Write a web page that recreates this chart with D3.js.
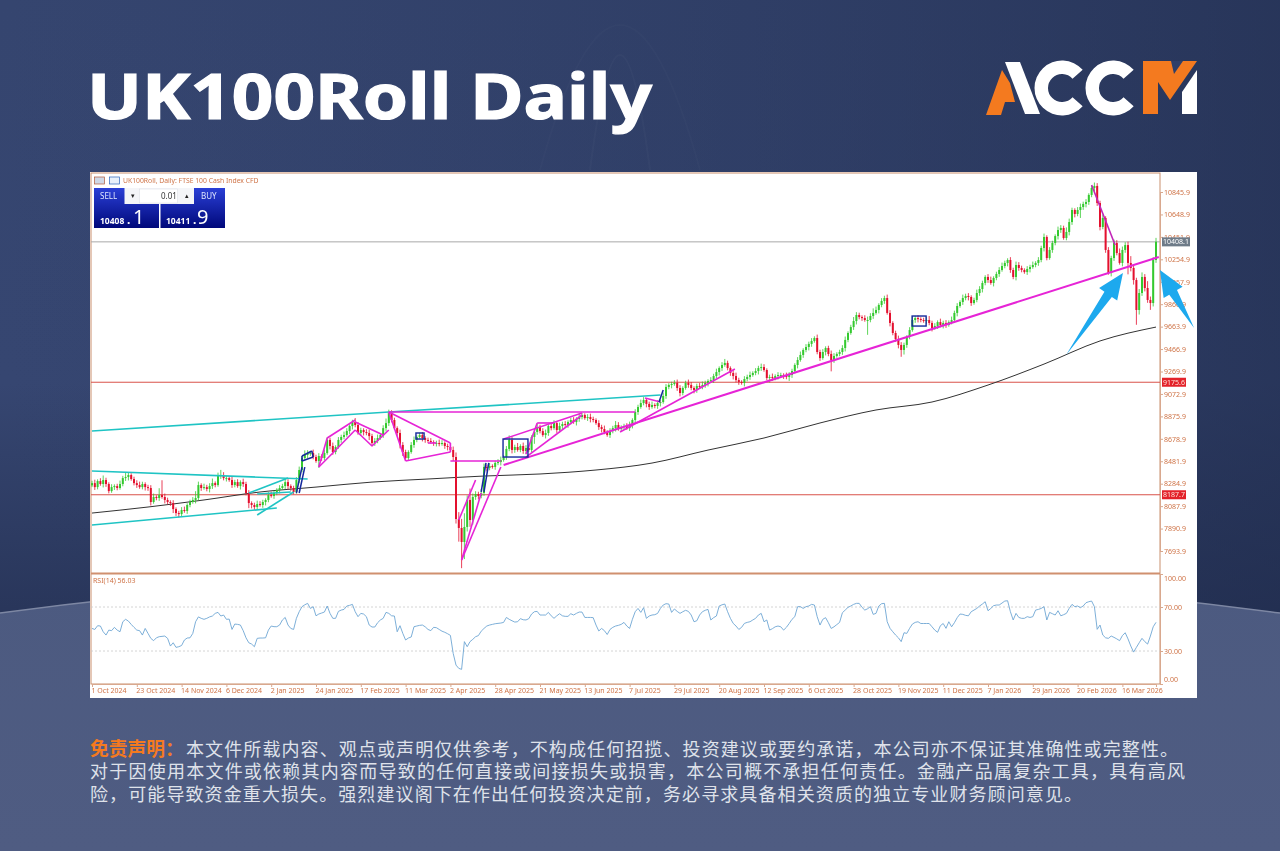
<!DOCTYPE html>
<html>
<head>
<meta charset="utf-8">
<script src="https://cdn.jsdelivr.net/npm/d3@7"></script>
<style>
  html,body{margin:0;padding:0;background:#2c3a60;}
  svg{display:block;}
</style>
</head>
<body>
<svg id="page" width="1280" height="851"></svg>
<script>
// daily closes, 1 Oct 2024 .. end Mar 2026
var closes = [
 8290,8255,8308,8282,8317,8282,8220,8255,8264,8247,
 8282,8334,8343,8361,8326,8290,8273,8255,8282,8255,
 8247,8124,8168,8159,8185,8168,8142,8124,8115,8062,
 8027,8018,8054,8045,8098,8124,8142,8159,8273,8247,
 8255,8238,8264,8290,8273,8352,8361,8334,8334,8317,
 8273,8299,8264,8299,8282,8203,8115,8098,8080,8106,
 8098,8124,8142,8185,8177,8203,8230,8247,8264,8299,
 8264,8247,8212,8317,8405,8510,8537,8554,8554,8519,
 8484,8528,8510,8554,8669,8616,8563,8607,8669,8695,
 8712,8747,8791,8826,8800,8730,8756,8738,8730,8703,
 8642,8660,8686,8712,8773,8817,8905,8844,8773,8730,
 8625,8563,8510,8563,8625,8669,8695,8712,8686,8669,
 8660,8651,8642,8642,8633,8642,8616,8607,8581,8519,
 7975,7896,7773,7905,8142,7966,8168,8194,8177,8203,
 8432,8423,8440,8432,8467,8475,8493,8519,8590,8669,
 8581,8607,8581,8616,8572,8598,8581,8695,8739,8782,
 8747,8712,8730,8791,8773,8817,8756,8791,8809,8800,
 8826,8844,8826,8853,8870,8888,8861,8870,8853,8844,
 8817,8782,8765,8739,8712,8747,8773,8800,8765,8782,
 8791,8773,8800,8844,8914,8958,8993,9020,8985,8958,
 8976,8967,8993,9002,9055,9134,9152,9160,9169,9125,
 9081,9125,9169,9152,9125,9108,9143,9134,9152,9169,
 9187,9195,9230,9265,9300,9327,9345,9300,9257,9230,
 9195,9178,9169,9204,9222,9239,9257,9274,9300,9309,
 9283,9213,9222,9213,9230,9239,9239,9230,9222,9239,
 9274,9327,9371,9415,9459,9485,9512,9538,9564,9441,
 9388,9441,9476,9424,9371,9406,9424,9441,9476,9547,
 9608,9660,9713,9766,9748,9739,9722,9722,9757,9784,
 9810,9854,9889,9915,9784,9696,9608,9555,9503,9459,
 9503,9573,9634,9722,9739,9731,9722,9713,9722,9696,
 9652,9669,9704,9678,9696,9678,9704,9722,9784,9845,
 9880,9915,9933,9924,9871,9898,9959,9994,10047,10100,
 10073,10047,10091,10126,10161,10196,10223,10249,10161,10100,
 10205,10179,10161,10143,10170,10187,10205,10223,10249,10354,
 10451,10266,10337,10398,10459,10512,10530,10442,10495,10582,
 10688,10653,10688,10714,10741,10758,10820,10881,10899,10749,
 10539,10618,10337,10135,10266,10398,10310,10223,10337,10380,
 10223,10179,10073,9810,9959,10100,10003,9898,9871,10249,10408
];
// wick lengths above / below the candle body, in index points
var wickUp = [
 20,30,15,25,40,20,15,25,15,20, 30,20,40,25,15,20,25,30,20,15,
 20,25,30,15,60,130,30,20,15,25, 15,20,25,30,15,20,25,60,30,15,
 30,20,25,40,15,30,45,25,20,15, 30,20,25,15,30,20,25,15,20,30,
 25,20,15,25,30,20,15,25,20,35, 25,15,20,25,30,20,40,25,15,30,
 20,25,15,30,25,20,30,15,25,20, 30,25,15,20,35,25,20,15,25,30,
 20,25,30,15,25,40,30,25,20,15, 30,25,20,15,25,30,15,20,25,15,
 20,25,15,20,30,25,15,20,25,30, 40,60,80,120,40,100,30,25,20,35,
 30,20,25,15,20,25,30,15,25,40, 25,20,35,15,30,25,20,15,25,30,
 20,25,30,15,20,25,15,30,20,25, 15,20,25,15,30,20,15,25,30,20,
 15,25,20,30,15,25,20,35,25,15, 20,25,30,15,25,20,30,25,15,20,
 30,15,25,20,30,25,15,20,25,30, 25,15,20,30,25,15,20,25,30,20,
 15,25,20,30,15,25,35,20,15,25, 30,20,15,25,20,30,15,25,20,30,
 25,15,20,30,15,25,20,15,30,25, 20,15,25,30,15,25,20,25,15,30,
 20,25,15,20,30,25,15,20,25,30, 15,20,35,25,20,15,25,30,25,40,
 30,15,25,20,30,25,15,20,30,25, 20,15,25,30,20,25,15,20,25,35,
 20,25,15,30,20,25,15,30,20,25, 15,30,20,25,15,20,30,25,20,15,
 25,30,15,20,25,30,20,15,25,20, 30,25,20,15,25,20,30,15,25,20,
 30,15,25,20,15,30,25,20,40,30, 20,15,25,30,20,25,15,20,30,25,
 20,30,15,25,20,30,25,40,30,25, 30,60,25,20,35,40,25,60,30,25, 35
];
var wickDown = [
 15,25,20,15,30,25,20,15,25,20, 15,20,25,30,15,20,25,15,20,30,
 25,30,15,20,25,15,30,20,25,35, 25,30,20,15,25,20,15,30,20,25,
 15,20,30,25,20,15,25,20,30,15, 25,20,15,30,25,20,45,30,25,20,
 15,25,30,20,15,25,20,30,15,25, 30,25,20,15,25,20,15,30,25,20,
 15,60,25,20,15,30,25,20,15,25, 20,15,25,30,20,15,25,30,20,35,
 30,25,20,15,25,30,25,20,15,25, 30,35,25,20,15,25,20,15,30,25,
 20,15,25,30,20,15,25,30,20,35, 40,120,230,150,40,60,40,25,30,20,
 25,30,20,15,25,20,30,15,25,20, 30,25,15,20,25,30,15,20,60,25,
 20,15,30,25,20,15,25,20,30,15, 25,20,15,30,25,20,15,25,30,20,
 15,25,30,20,15,25,20,30,15,25, 20,15,25,30,20,25,15,20,30,25,
 15,20,25,30,15,25,20,30,15,25, 30,20,15,25,20,30,25,15,20,25,
 30,15,25,20,30,25,15,20,25,30, 20,25,15,30,20,25,15,20,30,25,
 15,20,40,25,20,30,15,25,20,35, 25,20,30,15,25,20,30,25,15,20,
 25,15,30,20,100,25,15,20,25,30, 20,15,25,30,20,25,15,130,20,25,
 15,30,20,25,15,30,20,25,30,60, 40,25,20,15,25,30,20,15,25,20,
 30,15,25,20,30,25,15,20,25,30, 15,25,20,30,25,15,20,25,30,20,
 25,15,30,20,25,15,20,30,25,20, 30,25,20,15,25,30,15,20,25,20,
 30,20,15,25,20,30,25,15,20,30, 25,30,20,70,25,30,25,20,30,25,
 30,20,25,15,30,25,20,15,30,25, 100,30,40,130,40,25,30,25,60,30, 25
];
// 200 day average, read every 20th bar or so
var maBars = [0,20,40,60,80,100,120,140,160,170,180,200,220,240,260,280,300,320,340,360,380];
var maValues = [8027,8080,8142,8212,8255,8299,8326,8352,8370,8385,8405,8466,8580,8686,8818,8932,9002,9151,9335,9538,9660];
// RSI(14), same bars as closes
var rsiValues = [
 50.5,49.6,53,52.7,47.5,44.5,49,48.5,51.5,49, 47.5,56.6,58.8,57.2,54.2,51.5,49,48.5,44.5,50.5,
 46,41.5,39.4,42,43,43.3,43.6,41.5,34.5,37.5, 33.3,33.9,35,40,41.8,42,46,56.6,61,59.7,
 58.8,59.7,61,61.8,64.2,65.1,61.8,62.7,58.8,59, 49.6,54.5,54.2,53.6,48.5,42,37.5,36.3,33.9,41.5,
 41.8,41.8,42,49,52.7,52.1,52.1,53.6,58.2,60.5, 53.6,50.5,49.6,59.7,65.7,70.3,72,73.3,68.7,70.3,
 62,63.6,64.5,65.4,70.9,64.2,59.7,59.7,66,67.2, 67.8,70.9,71.5,72.4,65.7,61.2,64.2,63.6,61.2,53.6,
 51.8,51.8,55.7,58.2,59.7,65.1,64.2,62,61.8,47.5, 53,46,40,41.8,42.7,52.1,52.7,53.3,53.6,52,
 49.6,48.5,51.5,51.2,49.6,48,47,45.7,44.2,27.8, 17.2,14.2,13.3,38.5,33.9,38.5,40.6,43,44,48,
 50.5,52.7,53.6,54.2,54.8,55.1,55.4,56,60.5,58.8, 57.5,56.3,56.6,59.4,58.4,58.2,59.4,63.6,65.7,66,
 62.7,62.7,62.7,65.1,62,59.7,62,63.9,62,61.5, 61.5,63.9,62.7,64.2,65.4,65.4,60.5,60.5,60.5,60.3,
 53.6,48.2,50.5,48.5,45,49.6,51.5,52.7,53.3,54.2, 56,52.7,50.5,58.8,65.7,68.7,65.1,69.4,59.7,61.8,
 62.7,63,64.2,68.7,71.8,73,72.7,65.1,68.2,66, 64.2,65.7,67,66,62.7,56.6,57.5,62.7,65.7,67,
 67.8,58.2,60.3,61.8,70.9,72,72.7,65.7,59.7,55.1, 52.7,49.6,51.5,55.1,56,56.6,58.2,59.7,62.7,64.2,
 56.6,58.2,49,50.3,52,52.7,52,49,51.5,55, 58.8,61.2,70.3,70.3,68.7,70.3,70.9,72.4,71.8,61.2,
 53.6,58.8,60.3,55.7,50.5,52,54,56,64.8,67.2, 69.7,70.9,72.4,73.3,73.3,69.7,67.2,68.4,70.3,63.3,
 64.2,70.9,73,73.3,56.6,50.6,47.5,44.5,42,38.5, 46.6,46,50.6,54.5,56,56.6,55,55,55,55,
 52,49,47,53,55,50.6,56.6,52,55.7,60.3, 63.6,63.3,62.4,62,65.7,67.2,68.7,70.9,72.7,74.8,
 66.6,68.7,71.2,71.8,71.8,73.6,75.4,75.7,65.7,58.2, 64.2,60.5,59.7,59.7,61.2,60.5,61.2,67.2,67.8,68.7,
 70.3,58.2,65.1,63.9,62.7,66.6,62,63,64.2,68.7, 72.4,70.3,70.9,69.4,70.9,73.9,74.8,75.4,70.3,49.7,
 53.6,44.5,42,41.5,43.6,42.4,41,39.4,44,46.6, 41,34.5,29,33.3,37.5,41.5,38.5,36.3,43.6,52,56.03
];
var dateTicks = ["1 Oct 2024","23 Oct 2024","14 Nov 2024","6 Dec 2024","2 Jan 2025","24 Jan 2025","17 Feb 2025","11 Mar 2025","2 Apr 2025","28 Apr 2025","21 May 2025","13 Jun 2025","7 Jul 2025","29 Jul 2025","20 Aug 2025","12 Sep 2025","6 Oct 2025","28 Oct 2025","19 Nov 2025","11 Dec 2025","7 Jan 2026","29 Jan 2026","20 Feb 2026","16 Mar 2026"];
var priceTicks = [10845.9,10648.9,10451.9,10254.9,10057.9,9860.9,9663.9,9466.9,9269.9,9072.9,8875.9,8678.9,8481.9,8284.9,8087.9,7890.9,7693.9];
var rsiTicks = [0,30,70,100];
var redLevels = [9175.6,8187.7];
var lastPrice = 10408.1;

// drawn objects, [bar, price, bar, price]
var cyanLines = [
 [0,8747,106,8914],[106,8914,203,9063],[0,8396,77,8326],[0,7922,66,8071],
 [56,8203,70,8335],[59,8010,72,8212],[59,8194,71,8212]
];
var magentaThin = [
 [155,8519,175,8888],[147,8677,175,8905],[159,8818,165,8818],[159,8818,155,8546],
 [106,8914,194,8914],[106,8914,128,8642],[128,8642,128,8563],[112,8484,128,8563],[106,8914,112,8484],[120,8642,123,8642],
 [128,8484,146,8484],[132,7615,146,8431],[131,7966,137,8317],[132,7615,139,8203],
 [188.6,8739,229.6,9292],[197.5,9037,203,9002],
 [81,8431,84,8686],[84,8686,94,8844],[94,8756,86,8554],[86,8554,81,8431],[94,8826,104,8712],[94,8756,100,8616],[100,8616,106,8756]
];
var magentaMain = [[147,8449,381,10275]];
var purpleLines = [[357,10907,365.4,10381]];
var blueLines = [
 [73,8203,75,8431],[74,8203,76,8431],[75,8528,78.5,8572],[78.5,8572,79,8519],[79,8519,75,8484],[75,8484,75,8528],
 [139,8212,140.7,8467],[140,8212,141.7,8467],[202.5,9002,204,9107]
];
var blueBoxes = [[146.8,8677,155.7,8519],[115.7,8730,118.6,8677],[292.9,9757,297.9,9669]];
var arrows = [[347.9,9415,368.2,10135],[393.6,9652,381.4,10161]];

var bg = d3.select("#page");
var defs = bg.append("defs");
var g1 = defs.append("linearGradient").attr("id","bgTop").attr("x1",0).attr("x2",0).attr("y1",0).attr("y2",1);
g1.append("stop").attr("offset","0%").attr("stop-color","#35456f");
g1.append("stop").attr("offset","45%").attr("stop-color","#364671");
g1.append("stop").attr("offset","100%").attr("stop-color","#1b2543");
var g2 = defs.append("linearGradient").attr("id","bgLow").attr("x1",0).attr("x2",0).attr("y1",0).attr("y2",1);
g2.append("stop").attr("offset","0%").attr("stop-color","#4c5a80");
g2.append("stop").attr("offset","100%").attr("stop-color","#4f5c82");
var g3 = defs.append("linearGradient").attr("id","quote").attr("x1",0).attr("x2",0).attr("y1",0).attr("y2",1);
g3.append("stop").attr("offset","0%").attr("stop-color","#2a3fd6");
g3.append("stop").attr("offset","100%").attr("stop-color","#00087a");
var g4 = defs.append("linearGradient").attr("id","fade").attr("x1",0).attr("x2",1).attr("y1",0).attr("y2",0);
g4.append("stop").attr("offset","0%").attr("stop-color","#2b3a62").attr("stop-opacity",0);
g4.append("stop").attr("offset","100%").attr("stop-color","#1f2b4c").attr("stop-opacity",0.6);

bg.append("rect").attr("width",1280).attr("height",851).attr("fill","url(#bgTop)");
bg.append("rect").attr("width",1280).attr("height",620).attr("fill","url(#fade)");
// faint backdrop shapes behind the title
bg.append("path").attr("d","M590,170 Q620,-60 650,170").attr("fill","none").attr("stroke","#fff").attr("stroke-opacity",0.025).attr("stroke-width",2);
bg.append("path").attr("d","M540,170 Q620,-120 700,170").attr("fill","none").attr("stroke","#fff").attr("stroke-opacity",0.015).attr("stroke-width",2);
bg.append("path").attr("d","M0,613 Q640,528 1280,613 L1280,851 L0,851 Z").attr("fill","url(#bgLow)");
bg.append("path").attr("d","M0,613 Q640,528 1280,613").attr("fill","none").attr("stroke","#7d87a3").attr("stroke-width",1.5);

// header
bg.append("text").attr("x",87).attr("y",119).attr("fill","#fff").attr("stroke","#fff").attr("stroke-width",1.2)
  .style("font-family","'Noto Sans','Open Sans',sans-serif").style("font-weight",700).style("font-size","62px")
  .attr("textLength",565).attr("lengthAdjust","spacingAndGlyphs").text("UK100Roll Daily");

var logo = bg.append("g");
logo.append("polygon").attr("points","1002,70 986,115 1001,115 1005,102 1015,102 1010,83").attr("fill","#f47a1f");
logo.append("polygon").attr("points","1005,62 1020,62 1040,114 1025,114").attr("fill","#fff");
[1062,1113].forEach(function(cx){
  var arc = d3.arc().innerRadius(14).outerRadius(27.5)
    .startAngle(Math.PI/2+0.72).endAngle(Math.PI/2+2*Math.PI-0.72);
  logo.append("path").attr("transform","translate("+cx+",88)").attr("d",arc()).attr("fill","#fff");
});
logo.append("polygon").attr("points","1143,61 1197,61 1170,100 1158,82 1158,114 1143,114").attr("fill","#f47a1f");
logo.append("polygon").attr("points","1171,61 1183,61 1174,74").attr("fill","#2f3f69");
logo.append("polygon").attr("points","1197,70 1197,114 1182,114 1182,92").attr("fill","#fff");

// chart panel, screenshot is slightly soft so blur a touch
var panel = bg.append("g").style("filter","blur(0.35px)");
var axisCol = "#cf7448", labelFont = "'Noto Sans',sans-serif";
panel.append("rect").attr("x",90).attr("y",172).attr("width",1107).attr("height",526).attr("fill","#fff");
panel.append("rect").attr("x",91).attr("y",173).attr("width",1069).attr("height",511).attr("fill","none").attr("stroke","#c9906f").attr("stroke-width",1);
panel.append("rect").attr("x",91).attr("y",572.5).attr("width",1069).attr("height",2).attr("fill","#d0906f");

var x = d3.scaleLinear().domain([0,380]).range([92,1156]);
var y = d3.scaleLinear().domain([7693.9,10845.9]).range([551,192]);
var yRsi = d3.scaleLinear().domain([0,100]).range([684,574]);

redLevels.forEach(function(v){
  panel.append("line").attr("x1",91).attr("x2",1160).attr("y1",y(v)).attr("y2",y(v)).attr("stroke","#d9524a").attr("stroke-width",1);
});
panel.append("line").attr("x1",91).attr("x2",1160).attr("y1",y(lastPrice)).attr("y2",y(lastPrice)).attr("stroke","#a8a8a8").attr("stroke-width",1);

// moving average
var maLine = d3.line().x(function(d,i){return x(maBars[i]);}).y(function(d){return y(d);}).curve(d3.curveMonotoneX);
panel.append("path").attr("d",maLine(maValues)).attr("fill","none").attr("stroke","#333").attr("stroke-width",1);

// candles
var candles = panel.append("g").selectAll("g").data(closes).join("g").attr("class","candle");
function openOf(i){ return i==0 ? closes[0]-20 : closes[i-1]; }
function colorOf(d,i){ return d>=openOf(i) ? "#34c92f" : "#e3102e"; }
candles.append("line")
  .attr("x1",function(d,i){return x(i);}).attr("x2",function(d,i){return x(i);})
  .attr("y1",function(d,i){return y(Math.max(d,openOf(i))+wickUp[i]);})
  .attr("y2",function(d,i){return y(Math.min(d,openOf(i))-wickDown[i]);})
  .attr("stroke",colorOf).attr("stroke-width",0.8);
candles.append("rect")
  .attr("x",function(d,i){return x(i)-1;}).attr("width",2)
  .attr("y",function(d,i){return y(Math.max(d,openOf(i)));})
  .attr("height",function(d,i){return Math.max(1,Math.abs(y(d)-y(openOf(i))));})
  .attr("fill",colorOf);

// trend lines and boxes
function segs(list,col,w){
  panel.append("g").selectAll("line").data(list).join("line")
    .attr("x1",function(d){return x(d[0]);}).attr("y1",function(d){return y(d[1]);})
    .attr("x2",function(d){return x(d[2]);}).attr("y2",function(d){return y(d[3]);})
    .attr("stroke",col).attr("stroke-width",w);
}
segs(cyanLines,"#1fc4c4",1.6);
segs(magentaThin,"#e624d6",1.6);
segs(magentaMain,"#e624d6",2.1);
segs(purpleLines,"#c225b8",1.6);
segs(blueLines,"#14289c",1.5);
panel.append("g").selectAll("rect").data(blueBoxes).join("rect")
  .attr("x",function(d){return x(d[0]);}).attr("y",function(d){return y(d[1]);})
  .attr("width",function(d){return x(d[2])-x(d[0]);}).attr("height",function(d){return y(d[3])-y(d[1]);})
  .attr("fill","none").attr("stroke","#14289c").attr("stroke-width",1.4);

// price axis
var axisY = panel.append("g").attr("transform","translate(1160,0)")
  .call(d3.axisRight(y).tickValues(priceTicks).tickFormat(d3.format(".1f")).tickSize(3).tickPadding(1));
axisY.select(".domain").attr("stroke","#d9a88e");
axisY.selectAll(".tick line").attr("stroke","#d9a88e");
axisY.selectAll("text").attr("fill",axisCol).style("font-family",labelFont).style("font-size","7px");

// level tags
redLevels.forEach(function(v){
  panel.append("rect").attr("x",1162).attr("y",y(v)-4.5).attr("width",24).attr("height",9).attr("fill","#e3222a");
  panel.append("text").attr("x",1163).attr("y",y(v)+2.5).attr("fill","#ffe0d8").style("font-family",labelFont).style("font-size","7px").text(d3.format(".1f")(v));
});
panel.append("rect").attr("x",1162).attr("y",y(lastPrice)-4.5).attr("width",28).attr("height",9).attr("fill","#6e7b88");
panel.append("text").attr("x",1163).attr("y",y(lastPrice)+2.5).attr("fill","#fff").style("font-family",labelFont).style("font-size","7px").text(d3.format(".1f")(lastPrice));

// arrows
function arrowPath(a){
  var x0=x(a[0]),y0=y(a[1]),x1=x(a[2]),y1=y(a[3]);
  var len=Math.hypot(x1-x0,y1-y0),ux=(x1-x0)/len,uy=(y1-y0)/len,nx=-uy,ny=ux;
  var hl=26,hw=11,nw=4.5;
  var bx=x1-ux*hl,by=y1-uy*hl;
  return "M"+x0+","+y0+"L"+(bx+nx*nw)+","+(by+ny*nw)+"L"+(bx+nx*hw)+","+(by+ny*hw)+"L"+x1+","+y1+
         "L"+(bx-nx*hw)+","+(by-ny*hw)+"L"+(bx-nx*nw)+","+(by-ny*nw)+"Z";
}
panel.append("g").selectAll("path").data(arrows).join("path").attr("d",arrowPath).attr("fill","#1da9ee");

// RSI panel
[30,70].forEach(function(v){
  panel.append("line").attr("x1",91).attr("x2",1160).attr("y1",yRsi(v)).attr("y2",yRsi(v))
    .attr("stroke","#c9c9c9").attr("stroke-width",0.8).attr("stroke-dasharray","2,2");
});
var rsiLine = d3.line().x(function(d,i){return x(i);}).y(function(d){return yRsi(d);});
panel.append("path").attr("d",rsiLine(rsiValues)).attr("fill","none").attr("stroke","#6ea6d4").attr("stroke-width",0.9);
panel.append("text").attr("x",93).attr("y",583).attr("fill",axisCol).style("font-family",labelFont).style("font-size","7px").text("RSI(14) 56.03");

var axisR = panel.append("g").attr("transform","translate(1160,0)")
  .call(d3.axisRight(yRsi).tickValues(rsiTicks).tickFormat(d3.format(".2f")).tickSize(3).tickPadding(1));
axisR.select(".domain").attr("stroke","#d9a88e");
axisR.selectAll(".tick line").attr("stroke","#d9a88e");
axisR.selectAll("text").attr("fill",axisCol).style("font-family",labelFont).style("font-size","7px")
  .attr("dy",function(d){return d==100?"0.9em":(d==0?"-0.3em":"0.32em");});

// date axis, one tick every 16 bars
var axisX = panel.append("g").attr("transform","translate(0,684)")
  .call(d3.axisBottom(x).tickValues(dateTicks.map(function(d,i){return i*16;}))
    .tickFormat(function(d,i){return dateTicks[i];}).tickSize(3).tickPadding(1));
axisX.select(".domain").attr("stroke","#d9a88e");
axisX.selectAll(".tick line").attr("stroke","#d9a88e");
axisX.selectAll("text").attr("fill",axisCol).attr("text-anchor","start").attr("x",-1).style("font-family",labelFont).style("font-size","7px");

// terminal header + one click panel
panel.append("rect").attr("x",94.5).attr("y",177).attr("width",10).attr("height",7).attr("fill","#cfd8e6").attr("stroke","#b05a3a").attr("stroke-width",0.7);
panel.append("rect").attr("x",109.5).attr("y",177).attr("width",10).attr("height",7).attr("fill","#e8f0fa").attr("stroke","#2a62b8").attr("stroke-width",0.7);
panel.append("text").attr("x",123).attr("y",183).attr("fill",axisCol).style("font-family",labelFont).style("font-size","6.8px").text("UK100Roll, Daily:  FTSE 100 Cash Index CFD");
panel.append("rect").attr("x",94).attr("y",188).attr("width",131).attr("height",40).attr("fill","url(#quote)");
panel.append("rect").attr("x",124.5).attr("y",188).attr("width",69.5).attr("height",16).attr("fill","#f4f5f8");
panel.append("rect").attr("x",139.5).attr("y",189).attr("width",38).attr("height",14).attr("fill","#fff").attr("stroke","#d8dbe2").attr("stroke-width",0.5);
panel.append("rect").attr("x",159).attr("y",204).attr("width",1.5).attr("height",24).attr("fill","#fff");
var ptext = [
 {t:"SELL",x:100,y:199,s:8,w:400,c:"#dfe6ff"},{t:"BUY",x:201,y:199,s:8,w:400,c:"#dfe6ff"},
 {t:"0.01",x:161,y:198.5,s:8,w:400,c:"#333"},{t:"▾",x:131,y:198,s:7,w:400,c:"#222"},{t:"▴",x:185,y:198,s:7,w:400,c:"#222"},
 {t:"10408",x:100,y:224,s:8.5,w:700,c:"#fff"},{t:".",x:127,y:224,s:12,w:700,c:"#fff"},{t:"1",x:133,y:224,s:20,w:400,c:"#fff"},
 {t:"10411",x:166,y:224,s:8.5,w:700,c:"#fff"},{t:".",x:193,y:224,s:12,w:700,c:"#fff"},{t:"9",x:197,y:224,s:20,w:400,c:"#fff"}
];
panel.append("g").selectAll("text").data(ptext).join("text")
  .attr("x",function(d){return d.x;}).attr("y",function(d){return d.y;}).attr("fill",function(d){return d.c;})
  .style("font-family",labelFont).style("font-size",function(d){return d.s+"px";}).style("font-weight",function(d){return d.w;})
  .text(function(d){return d.t;});

// disclaimer
var noteFont = "'Noto Sans CJK SC',sans-serif";
var notes = ["本文件所载内容、观点或声明仅供参考，不构成任何招揽、投资建议或要约承诺，本公司亦不保证其准确性或完整性。",
 "对于因使用本文件或依赖其内容而导致的任何直接或间接损失或损害，本公司概不承担任何责任。金融产品属复杂工具，具有高风",
 "险，可能导致资金重大损失。强烈建议阁下在作出任何投资决定前，务必寻求具备相关资质的独立专业财务顾问意见。"];
bg.append("text").attr("x",90).attr("y",756).attr("fill","#f47a1f").style("font-family",noteFont).style("font-weight",700).style("font-size","18.8px").text("免责声明：");
[[186,756,992],[90,778,1095],[90,801,992]].forEach(function(p,i){
  bg.append("text").attr("x",p[0]).attr("y",p[1]).attr("fill","#dfe2ea").style("font-family",noteFont).style("font-size","18px")
    .attr("textLength",p[2]).attr("lengthAdjust","spacing").text(notes[i]);
});
</script>
</body>
</html>
